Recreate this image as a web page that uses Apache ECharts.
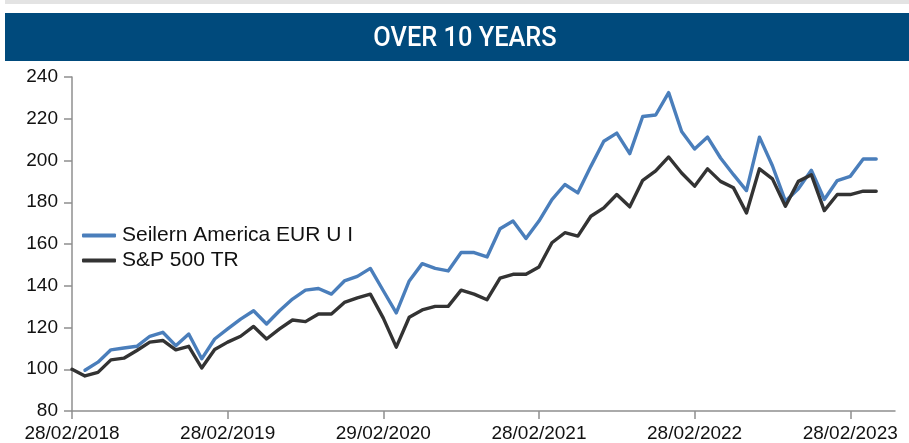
<!DOCTYPE html>
<html lang="en" style="height: 100%">
  <head>
    <meta charset="utf-8" />
    <title>Over 10 years</title>
  </head>
  <body style="height: 100%; margin: 0; background: #fff">
    <div id="container" style="width: 909px; height: 443px"></div>

    <script
      type="text/javascript"
      src="https://fastly.jsdelivr.net/npm/echarts@6/dist/echarts.min.js"
    ></script>

    <script type="text/javascript">
      // tick labels on the time axis (one per year, every 12 months)
      var tickLabels = [
        "28/02/2018",
        "28/02/2019",
        "29/02/2020",
        "28/02/2021",
        "28/02/2022",
        "28/02/2023",
      ];
      var tickMonths = [0, 12, 24, 36, 48, 60];

      // monthly values, rebased to 100
      var seilern = [
        null, 99.5, 103.4, 109.3, 110.2, 111, 115.8, 117.7, 111.3, 116.9,
        105, 114.5, 119.3, 124, 128, 121.7, 128, 133.6, 137.9, 138.7,
        136, 142.3, 144.5, 148.3, 137.6, 127, 142.3, 150.6, 148.3, 147.1,
        155.9, 155.9, 153.8, 167.3, 171, 162.6, 171, 181.3, 188.5, 184.5,
        197.2, 209.2, 213.1, 203.3, 221.1, 221.8, 232.5, 213.9, 205.5, 211.2,
        201.2, 193.2, 185.6, 211.2, 197.5, 180.5, 186.5, 195.3, 181.3, 190.4,
        192.4, 200.7, 200.7,
      ];
      var sp500 = [
        100, 96.8, 98.5, 104.5, 105.3, 109, 113, 113.8, 109.3, 111,
        100.6, 109.5, 113, 115.8, 120.5, 114.5, 119.3, 123.6, 122.8, 126.5,
        126.5, 132, 134.2, 136, 124.5, 110.6, 124.9, 128.4, 130.1, 130.1,
        137.9, 136, 133.3, 143.6, 145.5, 145.5, 149, 160.6, 165.4, 163.8,
        173.3, 177.3, 183.7, 177.8, 190.5, 195, 201.7, 194, 187.7, 196,
        190, 186.9, 174.9, 196, 191.2, 178.1, 190, 193.2, 176, 183.7,
        183.7, 185.3, 185.3,
      ];
      var seriesNames = ["Seilern America EUR U I", "S&P 500 TR"];

      function toPoints(arr) {
        return arr.map(function (v, i) {
          return [i, v];
        });
      }

      var dom = document.getElementById("container");
      var myChart = echarts.init(dom, null, { renderer: "canvas" });

      var labelFont = "'Liberation Sans', Arial, sans-serif";
      var axisGrey = "#8f8f8f";

      var option = {
        animation: false,
        backgroundColor: "#ffffff",
        graphic: [
          {
            type: "rect",
            shape: { x: 5, y: 0, width: 904, height: 4 },
            style: { fill: "#e3e3e3" },
          },
          {
            type: "rect",
            shape: { x: 5, y: 13, width: 904, height: 48 },
            style: { fill: "#004a7c" },
          },
          {
            type: "text",
            x: 465,
            y: 39,
            scaleX: 0.94,
            style: {
              text: "OVER 10 YEARS",
              fill: "#ffffff",
              font: "500 27px Roboto, sans-serif",
              textAlign: "center",
              textVerticalAlign: "middle",
            },
          },
        ],
        legend: {
          orient: "vertical",
          left: 77,
          top: 220,
          itemWidth: 34,
          itemHeight: 4,
          itemGap: 4,
          icon: "roundRect",
          textStyle: {
            fontFamily: labelFont,
            fontSize: 21,
            color: "#111",
            padding: [0, 0, 0, 1],
          },
          data: seriesNames,
        },
        grid: { left: 72, right: 14, top: 77, bottom: 31 },
        xAxis: {
          type: "value",
          min: 0,
          max: 63.45,
          splitLine: { show: false },
          axisLine: { lineStyle: { color: axisGrey, width: 1.5 } },
          axisTick: {
            length: 8,
            customValues: tickMonths,
            lineStyle: { color: axisGrey, width: 1.5 },
          },
          axisLabel: {
            customValues: tickMonths,
            margin: 13,
            fontFamily: labelFont,
            fontSize: 19,
            color: "#111",
            formatter: function (v) {
              return tickLabels[Math.round(v / 12)];
            },
          },
        },
        yAxis: {
          type: "value",
          min: 80,
          max: 240,
          interval: 20,
          splitLine: { show: false },
          axisLine: { show: true, lineStyle: { color: axisGrey, width: 1.5 } },
          axisTick: {
            show: true,
            length: 8,
            lineStyle: { color: axisGrey, width: 1.5 },
          },
          axisLabel: {
            margin: 14,
            fontFamily: labelFont,
            fontSize: 19,
            color: "#111",
          },
        },
        series: [
          {
            name: seriesNames[0],
            type: "line",
            data: toPoints(seilern),
            showSymbol: false,
            symbol: "none",
            color: "#4a7ebb",
            lineStyle: { width: 3.4, join: "round", cap: "round" },
          },
          {
            name: seriesNames[1],
            type: "line",
            data: toPoints(sp500),
            showSymbol: false,
            symbol: "none",
            color: "#333333",
            lineStyle: { width: 3.4, join: "round", cap: "round" },
          },
        ],
      };

      myChart.setOption(option);
      window.addEventListener("resize", myChart.resize);
    </script>
  </body>
</html>
